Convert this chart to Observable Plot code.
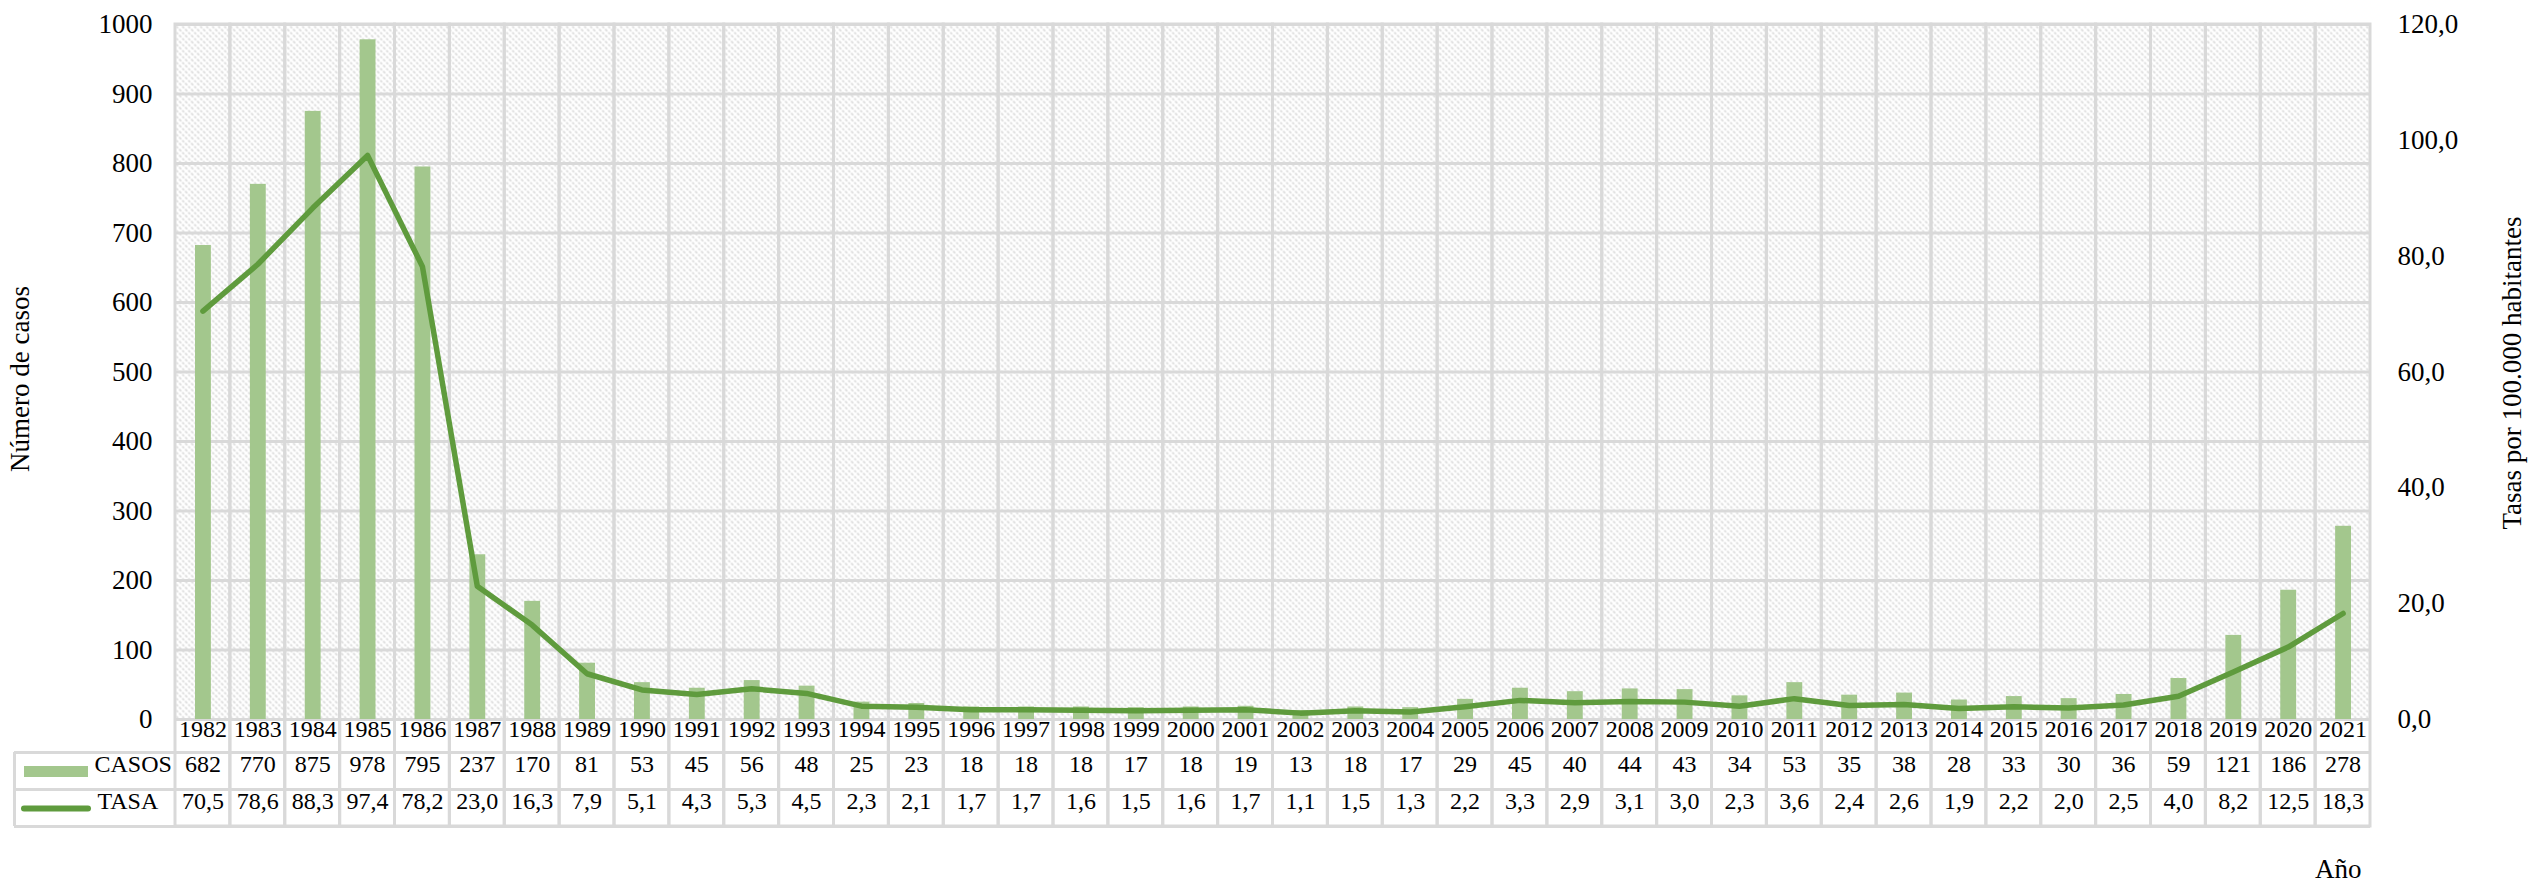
<!DOCTYPE html>
<html>
<head>
<meta charset="utf-8">
<script src="https://cdn.jsdelivr.net/npm/d3@7"></script>
<script src="https://cdn.jsdelivr.net/npm/@observablehq/plot@0.6"></script>
<style>
  html, body { margin: 0; padding: 0; background: #fff; }
  svg { display: block; }
  svg, svg text { font-family: "Liberation Serif", "DejaVu Serif", "Times New Roman", serif !important; }
</style>
</head>
<body>
<div id="chart"></div>
<script>
// ---- Data ----
const years = [1982,1983,1984,1985,1986,1987,1988,1989,1990,1991,1992,1993,1994,1995,1996,1997,1998,1999,2000,2001,
               2002,2003,2004,2005,2006,2007,2008,2009,2010,2011,2012,2013,2014,2015,2016,2017,2018,2019,2020,2021];
const casos = [682,770,875,978,795,237,170,81,53,45,56,48,25,23,18,18,18,17,18,19,
               13,18,17,29,45,40,44,43,34,53,35,38,28,33,30,36,59,121,186,278];
const tasa  = [70.5,78.6,88.3,97.4,78.2,23.0,16.3,7.9,5.1,4.3,5.3,4.5,2.3,2.1,1.7,1.7,1.6,1.5,1.6,1.7,
               1.1,1.5,1.3,2.2,3.3,2.9,3.1,3.0,2.3,3.6,2.4,2.6,1.9,2.2,2.0,2.5,4.0,8.2,12.5,18.3];
const leftTicks  = [0,100,200,300,400,500,600,700,800,900,1000];
const rightTicks = [0,20,40,60,80,100,120];
const seriesNames = ["CASOS", "TASA"];
const leftTitle  = "Número de casos";
const rightTitle = "Tasas por 100.000 habitantes";
const xTitle     = "Año";

// ---- Build ----
const leftMax = 1000, rightMax = 120;
const K = leftMax / rightMax;
const data = years.map((year, i) => ({year, casos: casos[i], tasa: tasa[i]}));
const fmt = v => v.toFixed(1).replace(".", ",");

const W = 2529, H = 889, mL = 175, mR = 159, mT = 24, mB = 170;
const frameH = H - mT - mB;
const gridC = "#d9d9d9";
const barC = "#a3c78d";
const lineC = "#5f9b3d";
const font = "'Liberation Serif', 'DejaVu Serif', serif";
const rowYear = 17, rowCasos = 52, rowTasa = 89;   // text offsets below frame
const line1 = 33, line2 = 70, line3 = 107;          // table row borders below frame
const swR = (W - mR) - 88;

const chart = Plot.plot({
  width: W, height: H,
  marginLeft: mL, marginRight: mR, marginTop: mT, marginBottom: mB,
  style: {fontFamily: font, fontSize: "27px", background: "#fff", color: "#000"},
  x: {type: "band", domain: years, padding: 0, axis: null},
  y: {domain: [0, leftMax]},
  marks: [
    Plot.frame({fill: "url(#hatch)", stroke: "none"}),
    Plot.ruleY(leftTicks, {stroke: gridC, strokeWidth: 3}),
    Plot.cell(data, {x: "year", fill: "none", stroke: gridC, strokeWidth: 3, insetBottom: -line3}),
    Plot.ruleY([0], {dy: line1, insetLeft: -161, stroke: gridC, strokeWidth: 3}),
    Plot.ruleY([0], {dy: line2, insetLeft: -161, stroke: gridC, strokeWidth: 3}),
    Plot.ruleY([0], {dy: line3, insetLeft: -161, stroke: gridC, strokeWidth: 3}),
    Plot.ruleX([years[0]], {dx: -(W - mL - mR) / years.length / 2 - 161, insetTop: frameH + line1, insetBottom: -line3, stroke: gridC, strokeWidth: 3}),
    Plot.barY(data, {x: "year", y: "casos", fill: barC, insetLeft: 20, insetRight: 19}),
    Plot.line(data, {x: "year", y: d => d.tasa * K, stroke: lineC, strokeWidth: 5.5, strokeLinejoin: "round", strokeLinecap: "round"}),
    // table contents
    Plot.text(data, {x: "year", text: d => String(d.year), frameAnchor: "bottom", dy: rowYear, fontSize: 24}),
    Plot.text(data, {x: "year", text: d => String(d.casos), frameAnchor: "bottom", dy: rowCasos, fontSize: 24}),
    Plot.text(data, {x: "year", text: d => fmt(d.tasa), frameAnchor: "bottom", dy: rowTasa, fontSize: 24}),
    // legend in table
    Plot.ruleY([0], {dy: rowCasos, insetLeft: -151, insetRight: swR, stroke: barC, strokeWidth: 11}),
    Plot.ruleY([0], {dy: rowTasa, insetLeft: -151, insetRight: swR, stroke: lineC, strokeWidth: 6, strokeLinecap: "round"}),
    Plot.text([seriesNames[0]], {text: d => d, frameAnchor: "bottom-left", textAnchor: "start", dx: -81, dy: rowCasos, fontSize: 24}),
    Plot.text([seriesNames[1]], {text: d => d, frameAnchor: "bottom-left", textAnchor: "start", dx: -78, dy: rowTasa, fontSize: 24}),
    // axes
    Plot.axisY(leftTicks, {anchor: "left", tickSize: 0, tickPadding: 23, fontSize: 27, label: null,
      tickFormat: v => String(v)}),
    Plot.axisY(rightTicks.map(v => v * K), {anchor: "right", tickSize: 0, tickPadding: 27, fontSize: 27, label: null,
      tickFormat: v => fmt(v / K)}),
    // titles
    Plot.text([leftTitle], {text: d => d, frameAnchor: "left", textAnchor: "middle", rotate: -90, dx: -155, dy: 7, fontSize: 27}),
    Plot.text([rightTitle], {text: d => d, frameAnchor: "right", textAnchor: "middle", rotate: -90, dx: 142, dy: 1, fontSize: 27}),
    Plot.text([xTitle], {text: d => d, frameAnchor: "bottom-right", textAnchor: "end", dx: -9, dy: 158, fontSize: 27})
  ]
});

// hatch pattern for the plot area
const defs = d3.select(chart).insert("defs", ":first-child");
const pat = defs.append("pattern").attr("id", "hatch").attr("patternUnits", "userSpaceOnUse")
  .attr("width", 6).attr("height", 6);
pat.append("rect").attr("width", 6).attr("height", 6).attr("fill", "#fff");
pat.append("path").attr("d", "M-1,-1L7,7M-1,5L1,7M5,-1L7,1")
  .attr("stroke", "#dadada").attr("stroke-width", 1.6).attr("stroke-dasharray", "2.5 1.5");

// make sure every text uses the serif face
d3.select(chart).selectAll("text, g").style("font-family", font);

document.getElementById("chart").appendChild(chart);
</script>
</body>
</html>
